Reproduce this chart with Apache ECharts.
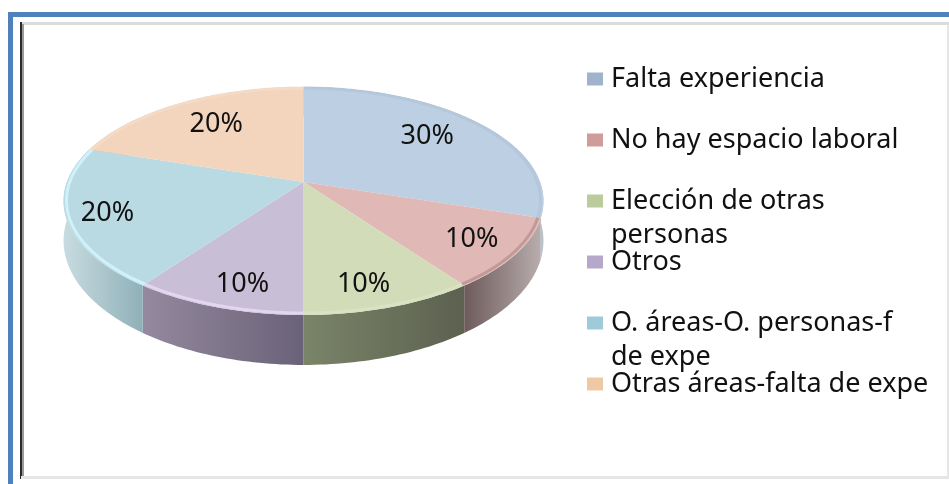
<!DOCTYPE html>
<html><head><meta charset="utf-8">
<style>html,body{margin:0;padding:0;background:#fff}#c{width:949px;height:484px}</style>
<script src="https://cdn.jsdelivr.net/npm/echarts@6/dist/echarts.min.js"></script>
</head><body><div id="c"></div>
<script>
var categories = ["Falta experiencia","No hay espacio laboral","Elección de otras personas","Otros","O. áreas-O. personas-f de expe","Otras áreas-falta de expe"];
var legendFirstLines = ["Falta experiencia","No hay espacio laboral","Elección de otras","Otros","O. áreas-O. personas-f","Otras áreas-falta de expe"];
var legendSecondLines = ["","","personas","","de expe",""];
var values = [30,10,10,10,20,20];

var topColors = ["#bdcfe2","#e0b8b6","#d3dcb9","#c8bfd6","#b9dae3","#f3d5bd"];
var wallLeft  = ["#8a99aa","#6e5a5a","#7a8468","#94899f","#c8dce0","#d8bba5"];
var wallRight = ["#b6c2ce","#b8adad","#5c6150","#6a6278","#8fb0b8","#d8bba5"];
var rimColors = ["#b3c4d8","#b89292","#dbe4c4","#e8dcf6","#d5f8ff","#f5dcc8"];
var iconColors = ["#9fb4cc","#cf9c9a","#bccb9c","#b5a8c8","#9fcbd8","#eec9a6"];
var labelRadius = [0.75,0.8,0.78,0.78,0.85,0.72];
var labelNudge = [[-10,0],[2,1],[-5,9],[4,9],[4,1],[4,1]];

var FONT = '"Noto Sans", sans-serif';
var geo = {x0:303.5, y0:182, a:236.6, b:110.8, k:-1/6, depthY:38, depthS:1.09};

function proj(theta, r, lower){
  var u = Math.sin(theta)*r, v = -Math.cos(theta)*r;
  var den = 1 + geo.k*v;
  var px = geo.a*u/den, py = geo.b*v/den;
  if (lower) return [geo.x0+px, geo.y0+geo.depthY+geo.depthS*py];
  return [geo.x0+px, geo.y0+py];
}
function arc(t0,t1,r,lower){
  var pts=[], n=Math.max(4,Math.ceil((t1-t0)/0.02));
  for(var i=0;i<=n;i++) pts.push(proj(t0+(t1-t0)*i/n,r,lower));
  return pts;
}
var total = values.reduce(function(s,v){return s+v;},0);
var starts=[]; values.reduce(function(s,v,i){starts[i]=s; return s+v;},0);

function makeSeries(name,i){
  return {
    type:'custom', name:name, coordinateSystem:'none', silent:true,
    itemStyle:{color:iconColors[i]},
    data:[values[i]],
    renderItem:function(params,api){
      var val=api.value(0);
      var t0=starts[i]/total*2*Math.PI, t1=t0+val/total*2*Math.PI;
      var mid=(t0+t1)/2;
      var wall=arc(t0,t1,1,false).concat(arc(t0,t1,1,true).reverse());
      var face=[proj(t0,0,false)].concat(arc(t0,t1,1,false));
      var rim=arc(t0,t1,0.988,false);
      var lp=proj(mid,labelRadius[i],false);
      return {type:'group',children:[
        {type:'polygon',z2:1,shape:{points:wall},style:{
          fill:new echarts.graphic.LinearGradient(0,0,1,0,[{offset:0,color:wallLeft[i]},{offset:1,color:wallRight[i]}])}},
        {type:'polygon',z2:2,shape:{points:face},style:{fill:topColors[i]}},
        {type:'polyline',z2:3,shape:{points:rim},style:{fill:null,stroke:rimColors[i],lineWidth:3,opacity:0.8}},
        {type:'text',z2:4,x:lp[0]+labelNudge[i][0],y:lp[1]+labelNudge[i][1],style:{text:Math.round(val/total*100)+'%',x:0,y:0,align:'center',verticalAlign:'middle',
          font:'27px '+FONT,fill:'#111'}}
      ]};
    }
  };
}
var frame=[
  {type:'rect',z:-5,shape:{x:8,y:12,width:941,height:5},style:{fill:'#4f81bd'}},
  {type:'rect',z:-5,shape:{x:8,y:12,width:5,height:472},style:{fill:'#4f81bd'}},
  {type:'rect',z:-5,shape:{x:20,y:22,width:929,height:3},style:{fill:'#dcdcdc'}},
  {type:'rect',z:-5,shape:{x:20,y:22,width:2,height:457},style:{fill:'#2b2b2b'}},
  {type:'rect',z:-5,shape:{x:22,y:24,width:2,height:453},style:{fill:'#9a9a9a'}},
  {type:'rect',z:-5,shape:{x:21,y:476,width:928,height:3},style:{fill:'#e6e6e6'}},
  {type:'rect',z:-5,shape:{x:947,y:25,width:2,height:454},style:{fill:'#e6e6e6'}}
];
var secondY={2:235,4:357};
var graphics=frame.slice();
legendSecondLines.forEach(function(t,i){
  if(t) graphics.push({type:'text',z:5,x:611,y:secondY[i],style:{text:t,font:'27px '+FONT,fill:'#111',verticalAlign:'middle'}});
});
var chart=echarts.init(document.getElementById('c'),null,{renderer:'canvas'});
chart.setOption({
  animation:false,
  backgroundColor:'#fff',
  legend:{
    show:true, orient:'vertical', left:582, top:59, itemGap:31, itemWidth:16, itemHeight:13, icon:'rect',
    selectedMode:false,
    data:categories,
    formatter:function(n){return legendFirstLines[categories.indexOf(n)];},
    textStyle:{fontFamily:'Noto Sans',fontSize:27,color:'#111',lineHeight:30,padding:[0,0,0,3]}
  },
  graphic:graphics,
  series:categories.map(makeSeries)
});
</script></body></html>
